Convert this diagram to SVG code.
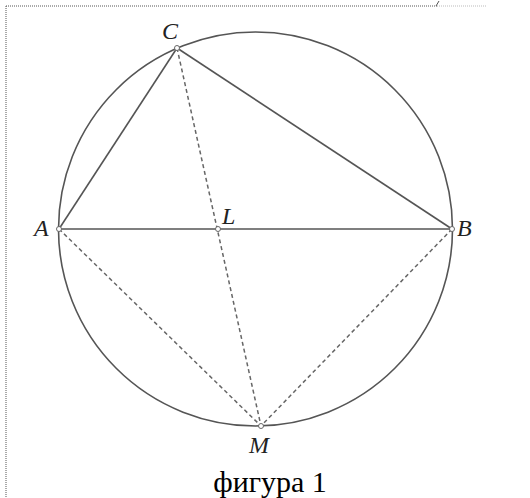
<svg xmlns="http://www.w3.org/2000/svg" width="530" height="498" viewBox="0 0 530 498">
<style>
.frame{stroke:#555;stroke-width:1;stroke-dasharray:1 1;fill:none}
.solid{stroke:#555;stroke-width:1.6;fill:none}
.dash{stroke:#666;stroke-width:1.5;stroke-dasharray:4 3;fill:none}
.pt{fill:#fff;stroke:#666;stroke-width:1}
.lbl{font-family:"Liberation Serif",serif;font-style:italic;font-size:24px;fill:#222}
.cap{font-family:"Liberation Serif",serif;font-size:30px;fill:#000}
</style>
<rect width="530" height="498" fill="#fff"/>
<g id="frame">
<line class="frame" x1="6" y1="6" x2="437" y2="6"/>
<line x1="437" y1="6" x2="486" y2="6" stroke="#bbb" stroke-width="1" stroke-dasharray="1 1"/>
<line class="frame" x1="6" y1="6" x2="6" y2="498"/>
<line x1="436" y1="6" x2="439" y2="1" stroke="#555" stroke-width="1"/>
</g>
<g id="circle"><circle class="solid" cx="255.5" cy="229" r="197"/></g>
<g id="connectors">
<line class="solid" x1="59" y1="229" x2="452" y2="229"/>
<line class="solid" x1="59" y1="229" x2="177" y2="48"/>
<line class="solid" x1="177" y1="48" x2="452" y2="229"/>
<line class="dash" x1="177" y1="48" x2="261" y2="426"/>
<line class="dash" x1="59" y1="229" x2="261" y2="426"/>
<line class="dash" x1="452" y1="229" x2="261" y2="426"/>
</g>
<g id="A"><circle class="pt" cx="59" cy="229" r="2.5"/><text class="lbl" x="34" y="236">A</text></g>
<g id="B"><circle class="pt" cx="452" cy="229" r="2.5"/><text class="lbl" x="457" y="236">B</text></g>
<g id="C"><circle class="pt" cx="177" cy="48" r="2.5"/><text class="lbl" x="162" y="39">C</text></g>
<g id="L"><circle class="pt" cx="218" cy="229" r="2.5"/><text class="lbl" x="222" y="224">L</text></g>
<g id="M"><circle class="pt" cx="261" cy="426" r="2.5"/><text class="lbl" x="249" y="453">M</text></g>
<text class="cap" x="270" y="492" text-anchor="middle">фигура 1</text>
</svg>
